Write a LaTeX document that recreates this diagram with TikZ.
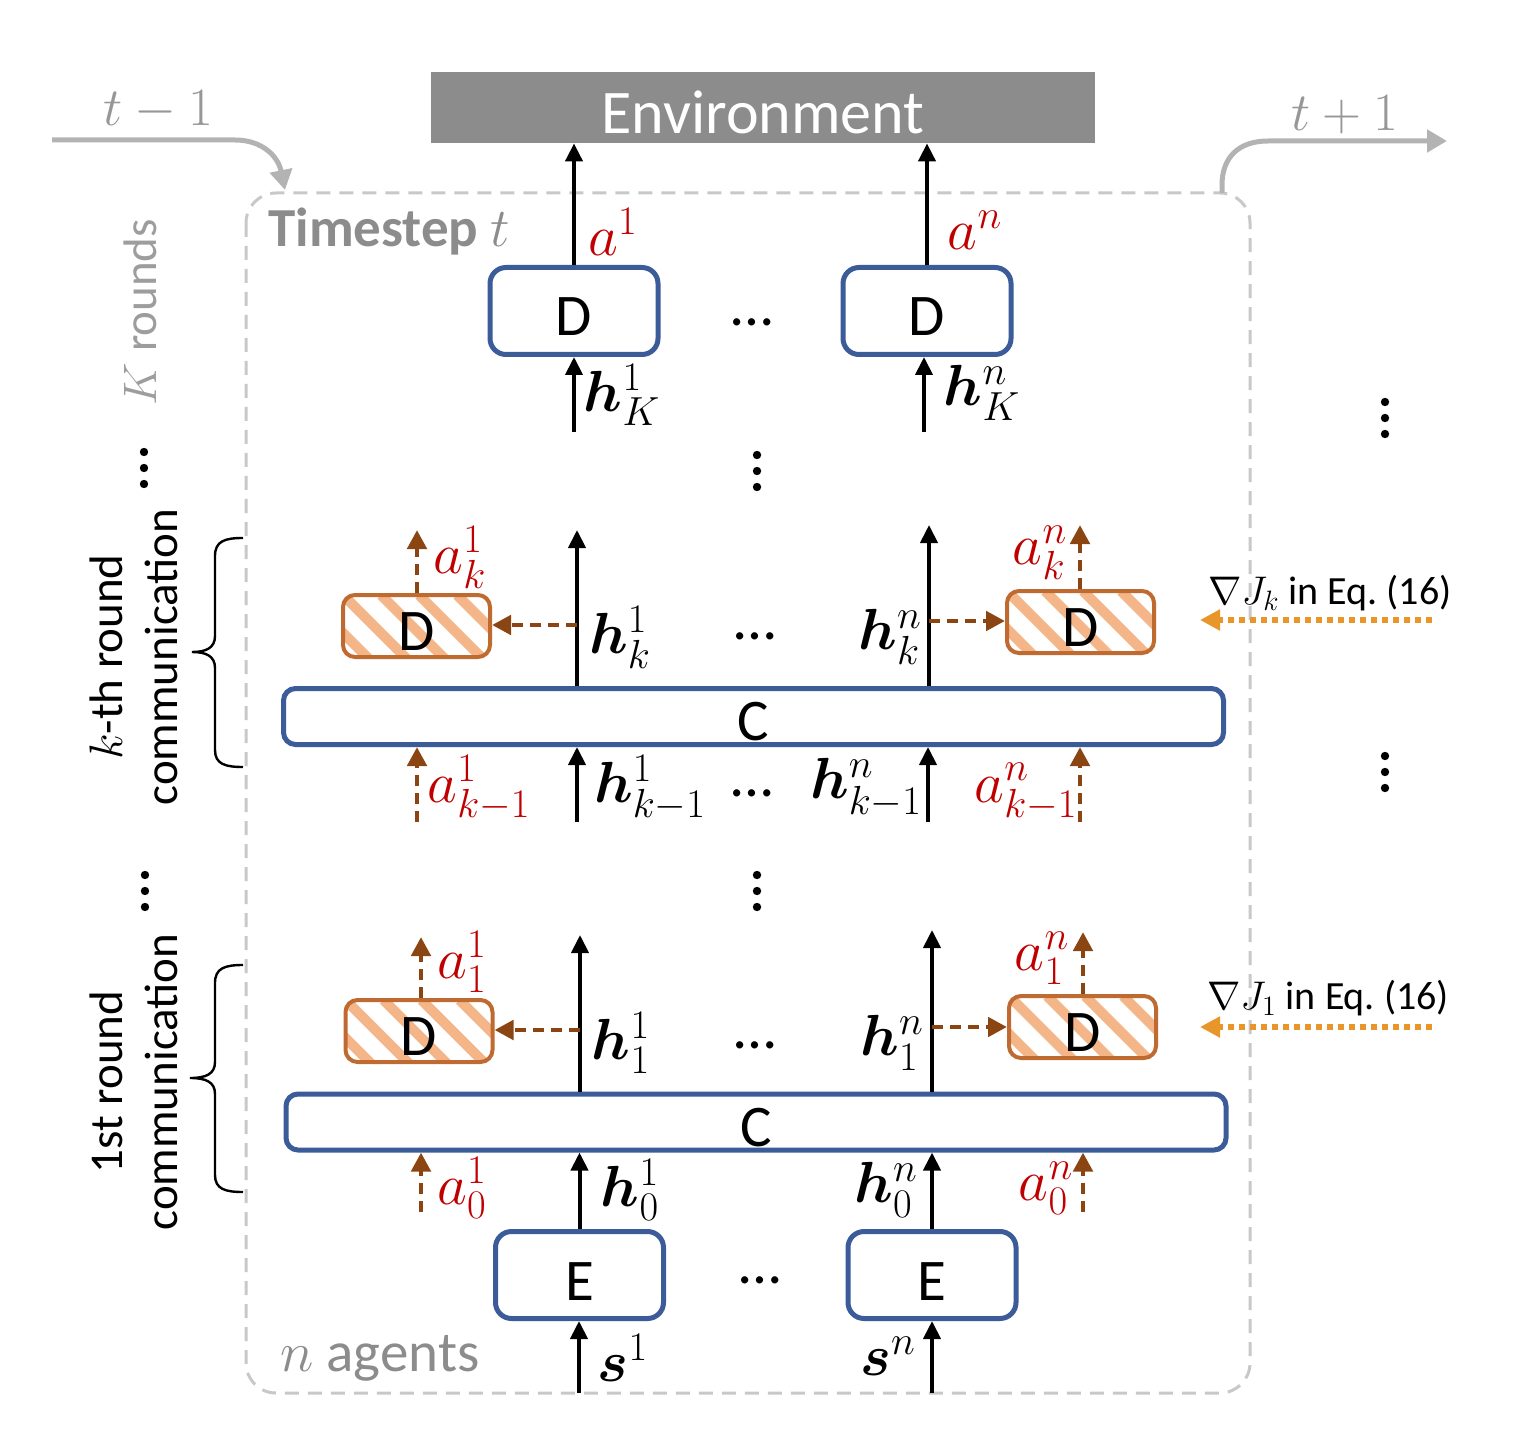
\RequirePackage{fix-cm}
\documentclass[tikz,border=0pt]{standalone}
\usepackage{amsmath}
\usepackage{bm}
\usepackage{fontspec}
\setmainfont{Carlito}
\usetikzlibrary{arrows.meta}
\definecolor{envgray}{HTML}{8C8C8C}
\definecolor{boxblue}{HTML}{3B5C99}
\definecolor{myred}{HTML}{C00000}
\definecolor{brn}{HTML}{8B4513}
\definecolor{hbord}{HTML}{BE6A30}
\definecolor{hfill}{HTML}{F4B688}
\definecolor{org}{HTML}{E8952A}
\definecolor{lgray}{HTML}{C8C8C8}
\definecolor{agray}{HTML}{B3B3B3}
\definecolor{tgray}{HTML}{8C8C8C}
\newcommand\mathsz{\fontsize{29}{34}\selectfont}
\newcommand\boxsz{\fontsize{29.5}{34}\selectfont}
\begin{document}
\begin{tikzpicture}[x=0.5pt,y=-0.5pt,
  bluebox/.style={draw=boxblue, line width=2.5pt, rounded corners=8pt, fill=white, inner sep=0pt, font=\boxsz, text height=25pt, text depth=0pt},
  dbox/.style={bluebox, minimum width=84pt, minimum height=43.5pt},
  cbox/.style={bluebox, minimum width=470pt, minimum height=28pt, rounded corners=6pt, text height=24pt},
  hbox/.style={draw=hbord, line width=2pt, rounded corners=6pt, fill=white, minimum width=73.5pt, minimum height=31pt, inner sep=0pt, font=\boxsz, text height=24pt, text depth=0pt,
    path picture={\foreach \i in {-4,...,5}{\draw[draw=hfill,line width=5pt] ([xshift=\i*19pt]path picture bounding box.north west) -- ++(45pt,-45pt);}}},
  envbox/.style={fill=envgray, minimum width=332pt, minimum height=35.5pt, inner sep=0pt, text=white, font=\fontsize{31}{36}\selectfont, text height=26pt, text depth=0pt},
  blk/.style={draw=black, line width=2pt, -{Triangle[length=9pt,width=8.5pt]}},
  brnar/.style={draw=brn, line width=2.4pt, dash pattern=on 5.5pt off 3.5pt, -{Triangle[length=9.5pt,width=9.5pt]}},
  orar/.style={draw=org, line width=2.8pt, dash pattern=on 3pt off 2.5pt, -{Triangle[length=10pt,width=10pt]}},
  grar/.style={draw=agray, line width=2.5pt, -{Triangle[length=10pt,width=11pt]}},
  lbl/.style={font=\mathsz, inner sep=0pt},
  rlbl/.style={lbl, text=myred},
  hdots/.style={font=\fontsize{30}{36}\selectfont, inner sep=0pt},
  gradtxt/.style={font=\fontsize{20}{24}\selectfont, inner sep=0pt},
  sidetxt/.style={rotate=90, align=center, font=\fontsize{23.5}{27.5}\selectfont, inner sep=0pt},
  brace/.style={draw=black, line width=1.2pt}
]
\useasboundingbox (0,0) rectangle (1514,1454);

% timestep frame
\draw[lgray, line width=1.5pt, dash pattern=on 7pt off 4.5pt, rounded corners=15pt] (246,193) rectangle (1250,1393);

% time arrows
\coordinate (tmA) at (52,140);
\coordinate (tmB) at (285,190);
\draw[grar] (tmA) -- (235,140) .. controls (262,140) and (278,156) .. (tmB);
\node[text=tgray!90, font=\fontsize{27}{30}\selectfont, inner sep=0pt] (tm1) at (158,110) {$t-1$};
\coordinate (tpA) at (1222,193);
\coordinate (tpB) at (1447,141);
\draw[grar] (tpA) -- (1222,185) .. controls (1222,158) and (1238,141) .. (1268,141) -- (tpB);
\node[text=tgray!90, font=\fontsize{27}{30}\selectfont, inner sep=0pt] (tp1) at (1345,115) {$t+1$};

% environment
\node[envbox] (env) at (763,107.5) {Environment};

\node[anchor=west, text=tgray, font=\bfseries\fontsize{27.5}{30}\selectfont, inner sep=0pt] (ts) at (268,232) {Timestep $t$};

% top decoders
\node[dbox] (dT1) at (574,311) {D};
\node[dbox] (dTn) at (927,311) {D};
\node[hdots] (dots1) at (752,322) {…};
\draw[blk] (dT1.north) -- (dT1.north |- env.south);
\draw[blk] (dTn.north) -- (dTn.north |- env.south);
\node[rlbl] (la1) at (613,232) {$a^1$};
\node[rlbl] (lan) at (975,230) {$a^n$};
\coordinate (hK1s) at (574,432);
\coordinate (hKns) at (924,432);
\draw[blk] (hK1s) -- (hK1s |- dT1.south);
\draw[blk] (hKns) -- (hKns |- dTn.south);
\node[lbl] (lhK1) at (622,395) {$\bm{h}^1_K$};
\node[lbl] (lhKn) at (982,393) {$\bm{h}^n_K$};

% vertical dots
\foreach \x/\y in {757/455, 757/875, 144/452, 145/875, 1385/402, 1385/756}{
  \foreach \d in {0,16,32}{\fill (\x,\y+\d) circle (2.1pt);}
}

% k-th round
\node[cbox] (Ck) at (753.5,716.5) {C};
\node[hbox] (Dk1) at (416.5,626) {D};
\node[hbox] (Dkn) at (1080.5,622) {D};
\coordinate (hk1t) at (577,530);
\coordinate (hknt) at (929,525);
\draw[blk] (Ck.north -| hk1t) -- (hk1t);
\draw[blk] (Ck.north -| hknt) -- (hknt);
\coordinate (hk1m) at (577,625);
\coordinate (hknm) at (929,621);
\draw[brnar] (hk1m) -- (Dk1.east |- hk1m);
\draw[brnar] (hknm) -- (Dkn.west |- hknm);
\coordinate (ak1t) at (417,530);
\coordinate (aknt) at (1080,525);
\draw[brnar] (Dk1.north -| ak1t) -- (ak1t);
\draw[brnar] (Dkn.north -| aknt) -- (aknt);
\node[rlbl] (lak1) at (460,557) {$a^1_k$};
\node[rlbl] (lakn) at (1040,553) {$a^n_k$};
\node[lbl] (lhk1) at (620,637) {$\bm{h}^1_k$};
\node[lbl] (lhkn) at (890,637) {$\bm{h}^n_k$};
\node[hdots] (dots2) at (755,636) {…};
\node[gradtxt] (gk) at (1330,593) {$\nabla J_k$ in Eq.~(16)};
\coordinate (gks) at (1432,620);
\coordinate (gke) at (1200,620);
\draw[orar] (gks) -- (gke);
% below Ck
\coordinate (am1b) at (417,822);
\coordinate (hm1b) at (577,822);
\coordinate (hmnb) at (928,822);
\coordinate (amnb) at (1080,822);
\draw[brnar] (am1b) -- (am1b |- Ck.south);
\draw[blk] (hm1b) -- (hm1b |- Ck.south);
\draw[blk] (hmnb) -- (hmnb |- Ck.south);
\draw[brnar] (amnb) -- (amnb |- Ck.south);
\node[rlbl] (lam1) at (479,788) {$a^1_{k-1}$};
\node[lbl] (lhm1) at (650,788) {$\bm{h}^1_{k-1}$};
\node[hdots] (dots3) at (752,793) {…};
\node[lbl] (lhmn) at (866,788) {$\bm{h}^n_{k-1}$};
\node[rlbl] (lamn) at (1026,792) {$a^n_{k-1}$};
% brace k
\draw[brace] (243,538) .. controls (225,538) and (215,541) .. (215,556) -- (215,636) .. controls (215,648) and (206,652) .. (192,652) .. controls (206,652) and (215,656) .. (215,668) -- (215,750) .. controls (215,764) and (225,767) .. (243,767);
\node[sidetxt] (kth) at (134,657) {$k$-th round\\communication};

% 1st round
\node[cbox] (C1) at (756,1122) {C};
\node[hbox] (D11) at (419,1031) {D};
\node[hbox] (D1n) at (1082.5,1027) {D};
\coordinate (h11t) at (580,935);
\coordinate (h1nt) at (932,930);
\draw[blk] (C1.north -| h11t) -- (h11t);
\draw[blk] (C1.north -| h1nt) -- (h1nt);
\coordinate (h11m) at (580,1030);
\coordinate (h1nm) at (932,1027);
\draw[brnar] (h11m) -- (D11.east |- h11m);
\draw[brnar] (h1nm) -- (D1n.west |- h1nm);
\coordinate (a11t) at (421,937);
\coordinate (a1nt) at (1083,932);
\draw[brnar] (D11.north -| a11t) -- (a11t);
\draw[brnar] (D1n.north -| a1nt) -- (a1nt);
\node[rlbl] (la11) at (462,962) {$a^1_1$};
\node[rlbl] (la1n) at (1042,958) {$a^n_1$};
\node[lbl] (lh11) at (621,1043) {$\bm{h}^1_1$};
\node[lbl] (lh1n) at (892,1043) {$\bm{h}^n_1$};
\node[hdots] (dots4) at (755,1045) {…};
\node[gradtxt] (g1) at (1328,998) {$\nabla J_1$ in Eq.~(16)};
\coordinate (g1s) at (1432,1027);
\coordinate (g1e) at (1200,1027);
\draw[orar] (g1s) -- (g1e);
% brace 1
\draw[brace] (243,965) .. controls (225,965) and (215,968) .. (215,983) -- (215,1062) .. controls (215,1074) and (206,1078) .. (190,1078) .. controls (206,1078) and (215,1082) .. (215,1094) -- (215,1175) .. controls (215,1189) and (225,1192) .. (243,1192);
\node[sidetxt] (fst) at (134,1082) {1st round\\communication};

% encoders
\node[dbox] (E1) at (579.5,1275) {E};
\node[dbox] (En) at (932,1275) {E};
\node[hdots] (dots5) at (760,1280) {…};
\coordinate (a01b) at (421,1212);
\coordinate (a0nb) at (1083,1212);
\draw[brnar] (a01b) -- (a01b |- C1.south);
\draw[brnar] (a0nb) -- (a0nb |- C1.south);
\draw[blk] (E1.north) -- (E1.north |- C1.south);
\draw[blk] (En.north) -- (En.north |- C1.south);
\node[rlbl] (la01) at (462,1188) {$a^1_0$};
\node[lbl] (lh01) at (630,1190) {$\bm{h}^1_0$};
\node[lbl] (lh0n) at (886,1190) {$\bm{h}^n_0$};
\node[rlbl] (la0n) at (1046,1188) {$a^n_0$};
\coordinate (s1b) at (579,1393);
\coordinate (snb) at (932,1393);
\draw[blk] (s1b) -- (s1b |- E1.south);
\draw[blk] (snb) -- (snb |- En.south);
\node[lbl] (ls1) at (623,1358) {$\bm{s}^1$};
\node[lbl] (lsn) at (888,1356) {$\bm{s}^n$};

\node[anchor=west, text=tgray, font=\fontsize{28.5}{32}\selectfont, inner sep=0pt] (nag) at (280,1358) {$n$ agents};
\node[rotate=90, text=tgray!85, font=\fontsize{23.5}{27}\selectfont, inner sep=0pt] (kr) at (140,312) {$K$ rounds};
\end{tikzpicture}
\end{document}
